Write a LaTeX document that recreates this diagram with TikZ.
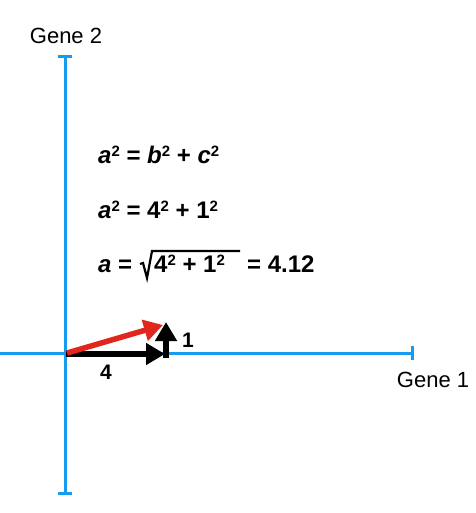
\documentclass[tikz,border=0pt]{standalone}
\usepackage{fontspec}
\setmainfont{Liberation Sans}
\usetikzlibrary{arrows.meta}
\definecolor{axisblue}{RGB}{22,155,240}
\definecolor{vecred}{RGB}{225,38,30}
\newcommand\sqtwo{\raisebox{0.28em}{\fontsize{15}{15}\selectfont 2}}
\begin{document}
\begin{tikzpicture}[x=1pt,y=-1pt,
  axis/.style={draw=axisblue,line width=3pt},
  vec/.style={line width=5.5pt,-{Triangle[length=19pt,width=21pt]}},
  lbl/.style={font=\fontsize{22}{26}\selectfont,inner sep=0pt},
  eq/.style={font=\fontsize{24}{28}\selectfont\bfseries,inner sep=0pt,anchor=base west},
  num/.style={font=\fontsize{21}{25}\selectfont\bfseries,inner sep=0pt}]
\useasboundingbox (0,0) rectangle (475,513);
\coordinate (ytop) at (65,57);
\coordinate (ybot) at (65,493);
\coordinate (xleft) at (0,353);
\coordinate (xright) at (412,353);
\draw[axis] (ytop) -- (ybot);
\draw[axis] (xleft) -- (xright);
\draw[axis] ([xshift=-7pt]ytop) -- ([xshift=7pt]ytop);
\draw[axis] ([xshift=-7pt]ybot) -- ([xshift=7pt]ybot);
\draw[axis] ([yshift=-7pt]xright) -- ([yshift=7pt]xright);
\node[lbl] (g2) at (66,36) {Gene 2};
\node[lbl] (g1) at (433,380) {Gene 1};
\coordinate (o) at (66,354);
\coordinate (h) at (165,354);
\coordinate (hb) at (166,358);
\coordinate (v) at (166,322);
\coordinate (ro) at (67,353);
\coordinate (r) at (163,325);
\draw[vec,draw=black,fill=black] (o) -- (h);
\draw[vec,draw=black,fill=black] (hb) -- (v);
\draw[vec,draw=vecred,fill=vecred] (ro) -- (r);
\node[num] (n1) at (188,340) {1};
\node[num] (n4) at (106,372) {4};
\node[eq] (e1) at (98,163) {\textit{a}\sqtwo{} = \textit{b}\sqtwo{} + \textit{c}\sqtwo};
\node[eq] (e2) at (98,218) {\textit{a}\sqtwo{} = 4\sqtwo{} + 1\sqtwo};
\node[eq] (e3a) at (98,272) {\textit{a} =};
\node[eq] (e3b) at (154,272) {4\sqtwo{} + 1\sqtwo};
\node[eq] (e3c) at (247,272) {= 4.12};
\draw[line width=2.2pt,line join=miter,line cap=butt]
  ([xshift=-14pt,yshift=8pt]e3b.base west) -- ([xshift=-11pt,yshift=9pt]e3b.base west)
  -- ([xshift=-7pt,yshift=-6pt]e3b.base west) -- ([xshift=-2pt,yshift=21pt]e3b.base west)
  -- ([xshift=86pt,yshift=21pt]e3b.base west);
\end{tikzpicture}
\end{document}
